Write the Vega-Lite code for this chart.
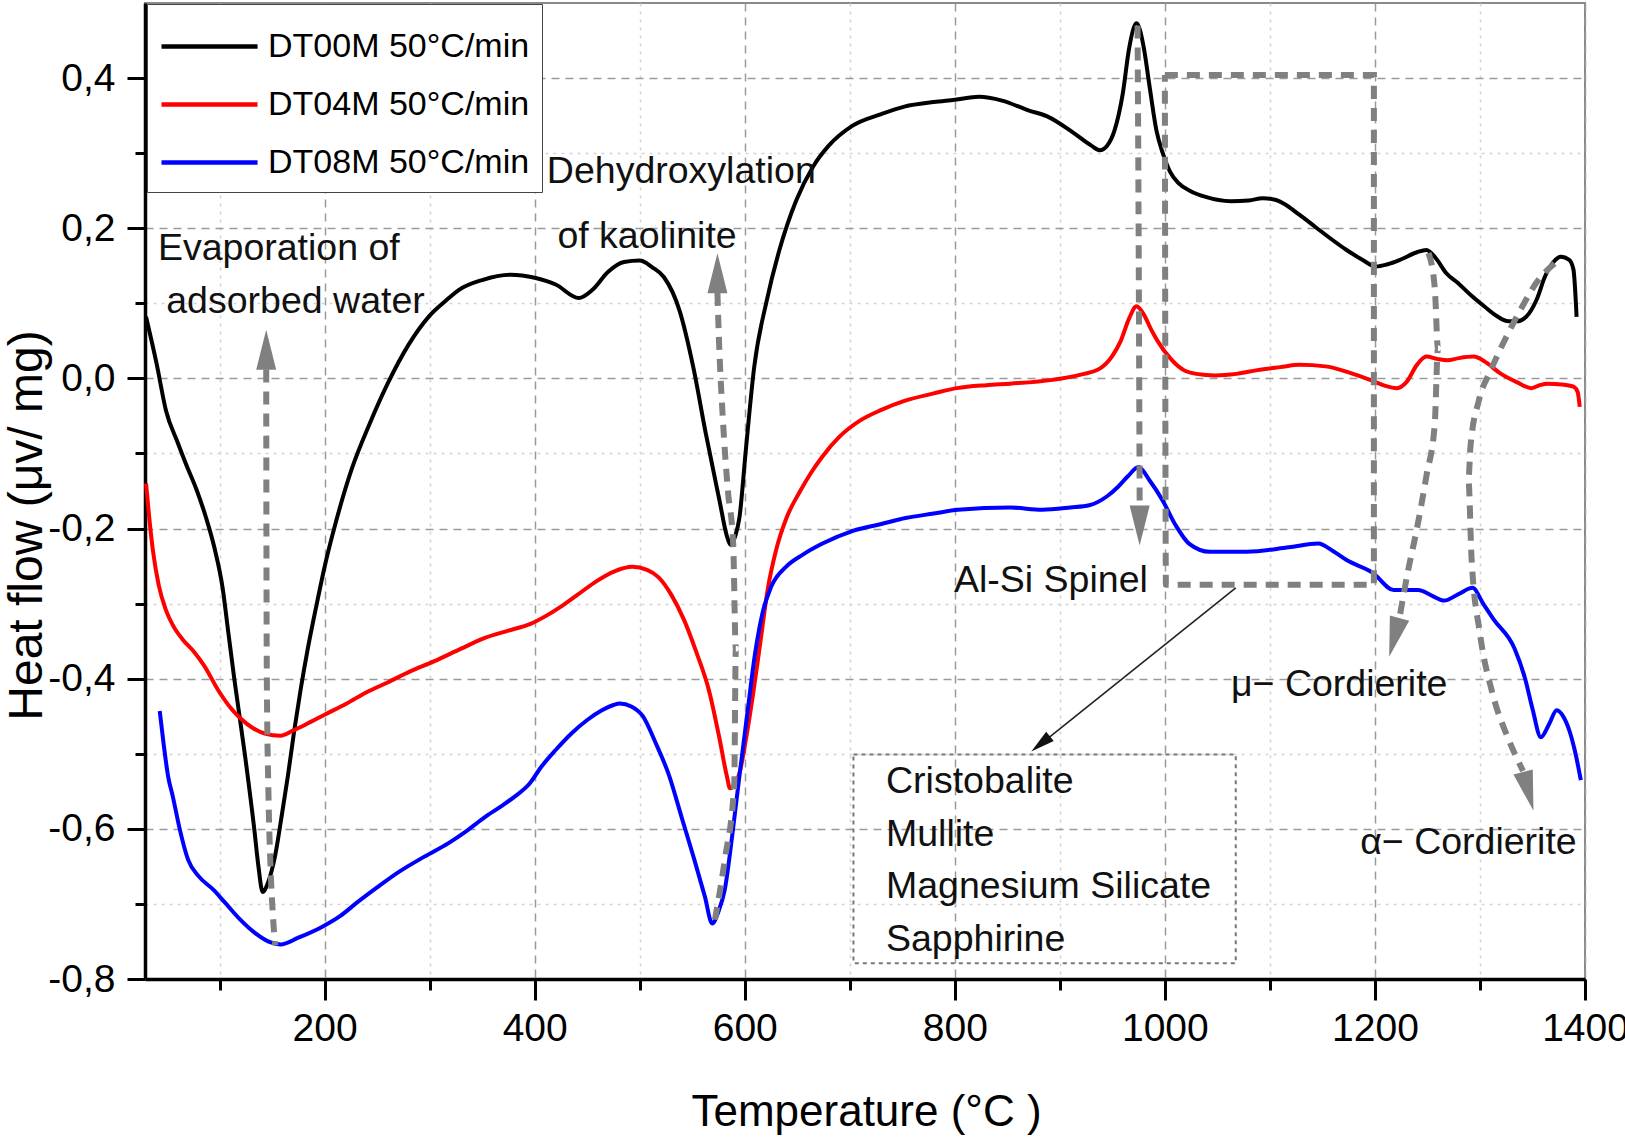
{
  "$schema": "https://vega.github.io/schema/vega-lite/v6.json",
  "description": "DSC curves of DT00M, DT04M, DT08M at 50°C/min with phase annotations.",
  "width": 1440,
  "height": 976,
  "autosize": {"type": "none"},
  "padding": {"left": 145, "top": 3, "right": 40, "bottom": 162},
  "config": {
    "font": "Liberation Sans",
    "view": {"stroke": "#8a8a8a", "strokeWidth": 2},
    "axis": {
      "domainColor": "black", "domainWidth": 3.5,
      "tickColor": "black", "tickWidth": 3,
      "labelColor": "black", "titleColor": "black",
      "labelFont": "Liberation Sans", "labelFontSize": 39,
      "titleFont": "Liberation Sans", "titleFontWeight": "normal",
      "labelFlush": false, "labelOverlap": false, "labelBound": false,
      "gridWidth": 1.5
    }
  },
  "datasets": {
    "dsc": [
      {"sample": "DT00M 50°C/min", "temp": 30, "flow": 0.082},
      {"sample": "DT00M 50°C/min", "temp": 40, "flow": 0.02},
      {"sample": "DT00M 50°C/min", "temp": 49, "flow": -0.043},
      {"sample": "DT00M 50°C/min", "temp": 60, "flow": -0.085},
      {"sample": "DT00M 50°C/min", "temp": 68, "flow": -0.114},
      {"sample": "DT00M 50°C/min", "temp": 78, "flow": -0.148},
      {"sample": "DT00M 50°C/min", "temp": 87, "flow": -0.185},
      {"sample": "DT00M 50°C/min", "temp": 95, "flow": -0.225},
      {"sample": "DT00M 50°C/min", "temp": 103, "flow": -0.28},
      {"sample": "DT00M 50°C/min", "temp": 108, "flow": -0.335},
      {"sample": "DT00M 50°C/min", "temp": 114, "flow": -0.4},
      {"sample": "DT00M 50°C/min", "temp": 124, "flow": -0.5},
      {"sample": "DT00M 50°C/min", "temp": 133, "flow": -0.6},
      {"sample": "DT00M 50°C/min", "temp": 137, "flow": -0.65},
      {"sample": "DT00M 50°C/min", "temp": 141, "flow": -0.684},
      {"sample": "DT00M 50°C/min", "temp": 146, "flow": -0.672},
      {"sample": "DT00M 50°C/min", "temp": 153, "flow": -0.635},
      {"sample": "DT00M 50°C/min", "temp": 160, "flow": -0.575},
      {"sample": "DT00M 50°C/min", "temp": 165, "flow": -0.53},
      {"sample": "DT00M 50°C/min", "temp": 171, "flow": -0.47},
      {"sample": "DT00M 50°C/min", "temp": 177, "flow": -0.416},
      {"sample": "DT00M 50°C/min", "temp": 184, "flow": -0.36},
      {"sample": "DT00M 50°C/min", "temp": 192, "flow": -0.304},
      {"sample": "DT00M 50°C/min", "temp": 201, "flow": -0.245},
      {"sample": "DT00M 50°C/min", "temp": 211, "flow": -0.19},
      {"sample": "DT00M 50°C/min", "temp": 226, "flow": -0.12},
      {"sample": "DT00M 50°C/min", "temp": 243, "flow": -0.06},
      {"sample": "DT00M 50°C/min", "temp": 260, "flow": -0.007},
      {"sample": "DT00M 50°C/min", "temp": 280, "flow": 0.045},
      {"sample": "DT00M 50°C/min", "temp": 299, "flow": 0.082},
      {"sample": "DT00M 50°C/min", "temp": 315, "flow": 0.103},
      {"sample": "DT00M 50°C/min", "temp": 328, "flow": 0.118},
      {"sample": "DT00M 50°C/min", "temp": 350, "flow": 0.131},
      {"sample": "DT00M 50°C/min", "temp": 377, "flow": 0.138},
      {"sample": "DT00M 50°C/min", "temp": 400, "flow": 0.134},
      {"sample": "DT00M 50°C/min", "temp": 420, "flow": 0.125},
      {"sample": "DT00M 50°C/min", "temp": 442, "flow": 0.107},
      {"sample": "DT00M 50°C/min", "temp": 455, "flow": 0.118},
      {"sample": "DT00M 50°C/min", "temp": 470, "flow": 0.142},
      {"sample": "DT00M 50°C/min", "temp": 485, "flow": 0.155},
      {"sample": "DT00M 50°C/min", "temp": 500, "flow": 0.157},
      {"sample": "DT00M 50°C/min", "temp": 512, "flow": 0.148},
      {"sample": "DT00M 50°C/min", "temp": 523, "flow": 0.135},
      {"sample": "DT00M 50°C/min", "temp": 538, "flow": 0.09},
      {"sample": "DT00M 50°C/min", "temp": 551, "flow": 0.015},
      {"sample": "DT00M 50°C/min", "temp": 563, "flow": -0.074},
      {"sample": "DT00M 50°C/min", "temp": 576, "flow": -0.163},
      {"sample": "DT00M 50°C/min", "temp": 583, "flow": -0.21},
      {"sample": "DT00M 50°C/min", "temp": 587, "flow": -0.222},
      {"sample": "DT00M 50°C/min", "temp": 591, "flow": -0.21},
      {"sample": "DT00M 50°C/min", "temp": 595, "flow": -0.185},
      {"sample": "DT00M 50°C/min", "temp": 601, "flow": -0.096},
      {"sample": "DT00M 50°C/min", "temp": 609, "flow": 0.015},
      {"sample": "DT00M 50°C/min", "temp": 621, "flow": 0.104},
      {"sample": "DT00M 50°C/min", "temp": 633, "flow": 0.171},
      {"sample": "DT00M 50°C/min", "temp": 649, "flow": 0.237},
      {"sample": "DT00M 50°C/min", "temp": 665, "flow": 0.282},
      {"sample": "DT00M 50°C/min", "temp": 680, "flow": 0.31},
      {"sample": "DT00M 50°C/min", "temp": 702, "flow": 0.336},
      {"sample": "DT00M 50°C/min", "temp": 730, "flow": 0.352},
      {"sample": "DT00M 50°C/min", "temp": 752, "flow": 0.362},
      {"sample": "DT00M 50°C/min", "temp": 780, "flow": 0.368},
      {"sample": "DT00M 50°C/min", "temp": 800, "flow": 0.371},
      {"sample": "DT00M 50°C/min", "temp": 823, "flow": 0.375},
      {"sample": "DT00M 50°C/min", "temp": 845, "flow": 0.37},
      {"sample": "DT00M 50°C/min", "temp": 870, "flow": 0.357},
      {"sample": "DT00M 50°C/min", "temp": 888, "flow": 0.349},
      {"sample": "DT00M 50°C/min", "temp": 913, "flow": 0.327},
      {"sample": "DT00M 50°C/min", "temp": 930, "flow": 0.31},
      {"sample": "DT00M 50°C/min", "temp": 938, "flow": 0.304},
      {"sample": "DT00M 50°C/min", "temp": 945, "flow": 0.31},
      {"sample": "DT00M 50°C/min", "temp": 952, "flow": 0.33},
      {"sample": "DT00M 50°C/min", "temp": 960, "flow": 0.38},
      {"sample": "DT00M 50°C/min", "temp": 966, "flow": 0.44},
      {"sample": "DT00M 50°C/min", "temp": 973, "flow": 0.473},
      {"sample": "DT00M 50°C/min", "temp": 980, "flow": 0.44},
      {"sample": "DT00M 50°C/min", "temp": 985, "flow": 0.393},
      {"sample": "DT00M 50°C/min", "temp": 992, "flow": 0.33},
      {"sample": "DT00M 50°C/min", "temp": 998, "flow": 0.3},
      {"sample": "DT00M 50°C/min", "temp": 1005, "flow": 0.275},
      {"sample": "DT00M 50°C/min", "temp": 1013, "flow": 0.26},
      {"sample": "DT00M 50°C/min", "temp": 1025, "flow": 0.249},
      {"sample": "DT00M 50°C/min", "temp": 1038, "flow": 0.242},
      {"sample": "DT00M 50°C/min", "temp": 1063, "flow": 0.236},
      {"sample": "DT00M 50°C/min", "temp": 1080, "flow": 0.237},
      {"sample": "DT00M 50°C/min", "temp": 1093, "flow": 0.24},
      {"sample": "DT00M 50°C/min", "temp": 1105, "flow": 0.238},
      {"sample": "DT00M 50°C/min", "temp": 1113, "flow": 0.233},
      {"sample": "DT00M 50°C/min", "temp": 1128, "flow": 0.218},
      {"sample": "DT00M 50°C/min", "temp": 1143, "flow": 0.202},
      {"sample": "DT00M 50°C/min", "temp": 1158, "flow": 0.186},
      {"sample": "DT00M 50°C/min", "temp": 1173, "flow": 0.171},
      {"sample": "DT00M 50°C/min", "temp": 1188, "flow": 0.158},
      {"sample": "DT00M 50°C/min", "temp": 1201, "flow": 0.149},
      {"sample": "DT00M 50°C/min", "temp": 1212, "flow": 0.152},
      {"sample": "DT00M 50°C/min", "temp": 1224, "flow": 0.158},
      {"sample": "DT00M 50°C/min", "temp": 1240, "flow": 0.168},
      {"sample": "DT00M 50°C/min", "temp": 1249, "flow": 0.171},
      {"sample": "DT00M 50°C/min", "temp": 1258, "flow": 0.16},
      {"sample": "DT00M 50°C/min", "temp": 1268, "flow": 0.14},
      {"sample": "DT00M 50°C/min", "temp": 1279, "flow": 0.127},
      {"sample": "DT00M 50°C/min", "temp": 1292, "flow": 0.11},
      {"sample": "DT00M 50°C/min", "temp": 1304, "flow": 0.096},
      {"sample": "DT00M 50°C/min", "temp": 1316, "flow": 0.083},
      {"sample": "DT00M 50°C/min", "temp": 1327, "flow": 0.076},
      {"sample": "DT00M 50°C/min", "temp": 1335, "flow": 0.076},
      {"sample": "DT00M 50°C/min", "temp": 1344, "flow": 0.082},
      {"sample": "DT00M 50°C/min", "temp": 1354, "flow": 0.105},
      {"sample": "DT00M 50°C/min", "temp": 1362, "flow": 0.136},
      {"sample": "DT00M 50°C/min", "temp": 1370, "flow": 0.155},
      {"sample": "DT00M 50°C/min", "temp": 1377, "flow": 0.162},
      {"sample": "DT00M 50°C/min", "temp": 1385, "flow": 0.158},
      {"sample": "DT00M 50°C/min", "temp": 1389, "flow": 0.145},
      {"sample": "DT00M 50°C/min", "temp": 1392, "flow": 0.082},

      {"sample": "DT04M 50°C/min", "temp": 30, "flow": -0.14},
      {"sample": "DT04M 50°C/min", "temp": 33, "flow": -0.185},
      {"sample": "DT04M 50°C/min", "temp": 36.5, "flow": -0.229},
      {"sample": "DT04M 50°C/min", "temp": 42, "flow": -0.275},
      {"sample": "DT04M 50°C/min", "temp": 49, "flow": -0.309},
      {"sample": "DT04M 50°C/min", "temp": 56, "flow": -0.33},
      {"sample": "DT04M 50°C/min", "temp": 65, "flow": -0.348},
      {"sample": "DT04M 50°C/min", "temp": 75, "flow": -0.363},
      {"sample": "DT04M 50°C/min", "temp": 85, "flow": -0.382},
      {"sample": "DT04M 50°C/min", "temp": 99, "flow": -0.416},
      {"sample": "DT04M 50°C/min", "temp": 110, "flow": -0.438},
      {"sample": "DT04M 50°C/min", "temp": 120, "flow": -0.453},
      {"sample": "DT04M 50°C/min", "temp": 132, "flow": -0.466},
      {"sample": "DT04M 50°C/min", "temp": 143, "flow": -0.473},
      {"sample": "DT04M 50°C/min", "temp": 158, "flow": -0.476},
      {"sample": "DT04M 50°C/min", "temp": 170, "flow": -0.469},
      {"sample": "DT04M 50°C/min", "temp": 182, "flow": -0.461},
      {"sample": "DT04M 50°C/min", "temp": 200, "flow": -0.448},
      {"sample": "DT04M 50°C/min", "temp": 221, "flow": -0.433},
      {"sample": "DT04M 50°C/min", "temp": 240, "flow": -0.418},
      {"sample": "DT04M 50°C/min", "temp": 260, "flow": -0.405},
      {"sample": "DT04M 50°C/min", "temp": 282, "flow": -0.39},
      {"sample": "DT04M 50°C/min", "temp": 304, "flow": -0.377},
      {"sample": "DT04M 50°C/min", "temp": 330, "flow": -0.36},
      {"sample": "DT04M 50°C/min", "temp": 352, "flow": -0.346},
      {"sample": "DT04M 50°C/min", "temp": 375, "flow": -0.336},
      {"sample": "DT04M 50°C/min", "temp": 396, "flow": -0.327},
      {"sample": "DT04M 50°C/min", "temp": 410, "flow": -0.317},
      {"sample": "DT04M 50°C/min", "temp": 425, "flow": -0.304},
      {"sample": "DT04M 50°C/min", "temp": 442, "flow": -0.287},
      {"sample": "DT04M 50°C/min", "temp": 459, "flow": -0.27},
      {"sample": "DT04M 50°C/min", "temp": 476, "flow": -0.257},
      {"sample": "DT04M 50°C/min", "temp": 493, "flow": -0.251},
      {"sample": "DT04M 50°C/min", "temp": 507, "flow": -0.255},
      {"sample": "DT04M 50°C/min", "temp": 518, "flow": -0.265},
      {"sample": "DT04M 50°C/min", "temp": 530, "flow": -0.288},
      {"sample": "DT04M 50°C/min", "temp": 542, "flow": -0.321},
      {"sample": "DT04M 50°C/min", "temp": 554, "flow": -0.365},
      {"sample": "DT04M 50°C/min", "temp": 566, "flow": -0.416},
      {"sample": "DT04M 50°C/min", "temp": 576, "flow": -0.48},
      {"sample": "DT04M 50°C/min", "temp": 583, "flow": -0.53},
      {"sample": "DT04M 50°C/min", "temp": 586, "flow": -0.546},
      {"sample": "DT04M 50°C/min", "temp": 591, "flow": -0.54},
      {"sample": "DT04M 50°C/min", "temp": 596, "flow": -0.52},
      {"sample": "DT04M 50°C/min", "temp": 600, "flow": -0.49},
      {"sample": "DT04M 50°C/min", "temp": 608, "flow": -0.42},
      {"sample": "DT04M 50°C/min", "temp": 615, "flow": -0.35},
      {"sample": "DT04M 50°C/min", "temp": 622, "flow": -0.28},
      {"sample": "DT04M 50°C/min", "temp": 630, "flow": -0.228},
      {"sample": "DT04M 50°C/min", "temp": 640, "flow": -0.185},
      {"sample": "DT04M 50°C/min", "temp": 652, "flow": -0.152},
      {"sample": "DT04M 50°C/min", "temp": 663, "flow": -0.126},
      {"sample": "DT04M 50°C/min", "temp": 674, "flow": -0.104},
      {"sample": "DT04M 50°C/min", "temp": 690, "flow": -0.078},
      {"sample": "DT04M 50°C/min", "temp": 710, "flow": -0.056},
      {"sample": "DT04M 50°C/min", "temp": 730, "flow": -0.042},
      {"sample": "DT04M 50°C/min", "temp": 752, "flow": -0.03},
      {"sample": "DT04M 50°C/min", "temp": 780, "flow": -0.02},
      {"sample": "DT04M 50°C/min", "temp": 802, "flow": -0.013},
      {"sample": "DT04M 50°C/min", "temp": 830, "flow": -0.009},
      {"sample": "DT04M 50°C/min", "temp": 853, "flow": -0.007},
      {"sample": "DT04M 50°C/min", "temp": 893, "flow": -0.002},
      {"sample": "DT04M 50°C/min", "temp": 920, "flow": 0.005},
      {"sample": "DT04M 50°C/min", "temp": 938, "flow": 0.013},
      {"sample": "DT04M 50°C/min", "temp": 950, "flow": 0.03},
      {"sample": "DT04M 50°C/min", "temp": 958, "flow": 0.05},
      {"sample": "DT04M 50°C/min", "temp": 966, "flow": 0.08},
      {"sample": "DT04M 50°C/min", "temp": 973, "flow": 0.096},
      {"sample": "DT04M 50°C/min", "temp": 980, "flow": 0.085},
      {"sample": "DT04M 50°C/min", "temp": 987, "flow": 0.065},
      {"sample": "DT04M 50°C/min", "temp": 993, "flow": 0.05},
      {"sample": "DT04M 50°C/min", "temp": 1005, "flow": 0.027},
      {"sample": "DT04M 50°C/min", "temp": 1018, "flow": 0.011},
      {"sample": "DT04M 50°C/min", "temp": 1030, "flow": 0.006},
      {"sample": "DT04M 50°C/min", "temp": 1048, "flow": 0.004},
      {"sample": "DT04M 50°C/min", "temp": 1068, "flow": 0.006},
      {"sample": "DT04M 50°C/min", "temp": 1088, "flow": 0.011},
      {"sample": "DT04M 50°C/min", "temp": 1110, "flow": 0.015},
      {"sample": "DT04M 50°C/min", "temp": 1128, "flow": 0.018},
      {"sample": "DT04M 50°C/min", "temp": 1153, "flow": 0.016},
      {"sample": "DT04M 50°C/min", "temp": 1175, "flow": 0.008},
      {"sample": "DT04M 50°C/min", "temp": 1199, "flow": -0.004},
      {"sample": "DT04M 50°C/min", "temp": 1210, "flow": -0.01},
      {"sample": "DT04M 50°C/min", "temp": 1221, "flow": -0.013},
      {"sample": "DT04M 50°C/min", "temp": 1230, "flow": -0.005},
      {"sample": "DT04M 50°C/min", "temp": 1240, "flow": 0.018},
      {"sample": "DT04M 50°C/min", "temp": 1249, "flow": 0.029},
      {"sample": "DT04M 50°C/min", "temp": 1259, "flow": 0.026},
      {"sample": "DT04M 50°C/min", "temp": 1269, "flow": 0.024},
      {"sample": "DT04M 50°C/min", "temp": 1280, "flow": 0.027},
      {"sample": "DT04M 50°C/min", "temp": 1294, "flow": 0.029},
      {"sample": "DT04M 50°C/min", "temp": 1305, "flow": 0.022},
      {"sample": "DT04M 50°C/min", "temp": 1319, "flow": 0.007},
      {"sample": "DT04M 50°C/min", "temp": 1335, "flow": -0.005},
      {"sample": "DT04M 50°C/min", "temp": 1349, "flow": -0.013},
      {"sample": "DT04M 50°C/min", "temp": 1357, "flow": -0.009},
      {"sample": "DT04M 50°C/min", "temp": 1364, "flow": -0.007},
      {"sample": "DT04M 50°C/min", "temp": 1378, "flow": -0.008},
      {"sample": "DT04M 50°C/min", "temp": 1389, "flow": -0.011},
      {"sample": "DT04M 50°C/min", "temp": 1393, "flow": -0.018},
      {"sample": "DT04M 50°C/min", "temp": 1395, "flow": -0.038},

      {"sample": "DT08M 50°C/min", "temp": 43, "flow": -0.443},
      {"sample": "DT08M 50°C/min", "temp": 47, "flow": -0.49},
      {"sample": "DT08M 50°C/min", "temp": 51, "flow": -0.53},
      {"sample": "DT08M 50°C/min", "temp": 55.5, "flow": -0.557},
      {"sample": "DT08M 50°C/min", "temp": 62, "flow": -0.6},
      {"sample": "DT08M 50°C/min", "temp": 70, "flow": -0.641},
      {"sample": "DT08M 50°C/min", "temp": 80, "flow": -0.663},
      {"sample": "DT08M 50°C/min", "temp": 94, "flow": -0.681},
      {"sample": "DT08M 50°C/min", "temp": 105, "flow": -0.698},
      {"sample": "DT08M 50°C/min", "temp": 119, "flow": -0.72},
      {"sample": "DT08M 50°C/min", "temp": 133, "flow": -0.738},
      {"sample": "DT08M 50°C/min", "temp": 148, "flow": -0.751},
      {"sample": "DT08M 50°C/min", "temp": 158, "flow": -0.754},
      {"sample": "DT08M 50°C/min", "temp": 175, "flow": -0.745},
      {"sample": "DT08M 50°C/min", "temp": 197, "flow": -0.731},
      {"sample": "DT08M 50°C/min", "temp": 215, "flow": -0.716},
      {"sample": "DT08M 50°C/min", "temp": 231, "flow": -0.698},
      {"sample": "DT08M 50°C/min", "temp": 250, "flow": -0.678},
      {"sample": "DT08M 50°C/min", "temp": 270, "flow": -0.658},
      {"sample": "DT08M 50°C/min", "temp": 295, "flow": -0.637},
      {"sample": "DT08M 50°C/min", "temp": 318, "flow": -0.619},
      {"sample": "DT08M 50°C/min", "temp": 335, "flow": -0.603},
      {"sample": "DT08M 50°C/min", "temp": 352, "flow": -0.585},
      {"sample": "DT08M 50°C/min", "temp": 368, "flow": -0.57},
      {"sample": "DT08M 50°C/min", "temp": 381, "flow": -0.557},
      {"sample": "DT08M 50°C/min", "temp": 395, "flow": -0.54},
      {"sample": "DT08M 50°C/min", "temp": 406, "flow": -0.518},
      {"sample": "DT08M 50°C/min", "temp": 420, "flow": -0.495},
      {"sample": "DT08M 50°C/min", "temp": 435, "flow": -0.473},
      {"sample": "DT08M 50°C/min", "temp": 450, "flow": -0.455},
      {"sample": "DT08M 50°C/min", "temp": 464, "flow": -0.442},
      {"sample": "DT08M 50°C/min", "temp": 475, "flow": -0.435},
      {"sample": "DT08M 50°C/min", "temp": 481, "flow": -0.433},
      {"sample": "DT08M 50°C/min", "temp": 492, "flow": -0.437},
      {"sample": "DT08M 50°C/min", "temp": 503, "flow": -0.45},
      {"sample": "DT08M 50°C/min", "temp": 515, "flow": -0.485},
      {"sample": "DT08M 50°C/min", "temp": 528, "flow": -0.529},
      {"sample": "DT08M 50°C/min", "temp": 540, "flow": -0.585},
      {"sample": "DT08M 50°C/min", "temp": 552, "flow": -0.641},
      {"sample": "DT08M 50°C/min", "temp": 562, "flow": -0.69},
      {"sample": "DT08M 50°C/min", "temp": 569, "flow": -0.726},
      {"sample": "DT08M 50°C/min", "temp": 575, "flow": -0.71},
      {"sample": "DT08M 50°C/min", "temp": 581, "flow": -0.681},
      {"sample": "DT08M 50°C/min", "temp": 588, "flow": -0.61},
      {"sample": "DT08M 50°C/min", "temp": 595, "flow": -0.529},
      {"sample": "DT08M 50°C/min", "temp": 603, "flow": -0.44},
      {"sample": "DT08M 50°C/min", "temp": 610, "flow": -0.365},
      {"sample": "DT08M 50°C/min", "temp": 617, "flow": -0.312},
      {"sample": "DT08M 50°C/min", "temp": 625, "flow": -0.278},
      {"sample": "DT08M 50°C/min", "temp": 640, "flow": -0.25},
      {"sample": "DT08M 50°C/min", "temp": 655, "flow": -0.235},
      {"sample": "DT08M 50°C/min", "temp": 674, "flow": -0.22},
      {"sample": "DT08M 50°C/min", "temp": 703, "flow": -0.203},
      {"sample": "DT08M 50°C/min", "temp": 730, "flow": -0.194},
      {"sample": "DT08M 50°C/min", "temp": 753, "flow": -0.186},
      {"sample": "DT08M 50°C/min", "temp": 780, "flow": -0.18},
      {"sample": "DT08M 50°C/min", "temp": 803, "flow": -0.175},
      {"sample": "DT08M 50°C/min", "temp": 853, "flow": -0.172},
      {"sample": "DT08M 50°C/min", "temp": 883, "flow": -0.175},
      {"sample": "DT08M 50°C/min", "temp": 910, "flow": -0.172},
      {"sample": "DT08M 50°C/min", "temp": 928, "flow": -0.169},
      {"sample": "DT08M 50°C/min", "temp": 945, "flow": -0.157},
      {"sample": "DT08M 50°C/min", "temp": 955, "flow": -0.145},
      {"sample": "DT08M 50°C/min", "temp": 965, "flow": -0.13},
      {"sample": "DT08M 50°C/min", "temp": 975, "flow": -0.118},
      {"sample": "DT08M 50°C/min", "temp": 985, "flow": -0.135},
      {"sample": "DT08M 50°C/min", "temp": 998, "flow": -0.163},
      {"sample": "DT08M 50°C/min", "temp": 1010, "flow": -0.195},
      {"sample": "DT08M 50°C/min", "temp": 1023, "flow": -0.22},
      {"sample": "DT08M 50°C/min", "temp": 1043, "flow": -0.231},
      {"sample": "DT08M 50°C/min", "temp": 1078, "flow": -0.231},
      {"sample": "DT08M 50°C/min", "temp": 1118, "flow": -0.225},
      {"sample": "DT08M 50°C/min", "temp": 1146, "flow": -0.22},
      {"sample": "DT08M 50°C/min", "temp": 1160, "flow": -0.23},
      {"sample": "DT08M 50°C/min", "temp": 1173, "flow": -0.242},
      {"sample": "DT08M 50°C/min", "temp": 1198, "flow": -0.259},
      {"sample": "DT08M 50°C/min", "temp": 1218, "flow": -0.282},
      {"sample": "DT08M 50°C/min", "temp": 1241, "flow": -0.282},
      {"sample": "DT08M 50°C/min", "temp": 1255, "flow": -0.29},
      {"sample": "DT08M 50°C/min", "temp": 1266, "flow": -0.296},
      {"sample": "DT08M 50°C/min", "temp": 1280, "flow": -0.287},
      {"sample": "DT08M 50°C/min", "temp": 1293, "flow": -0.279},
      {"sample": "DT08M 50°C/min", "temp": 1303, "flow": -0.3},
      {"sample": "DT08M 50°C/min", "temp": 1313, "flow": -0.321},
      {"sample": "DT08M 50°C/min", "temp": 1333, "flow": -0.36},
      {"sample": "DT08M 50°C/min", "temp": 1343, "flow": -0.4},
      {"sample": "DT08M 50°C/min", "temp": 1350, "flow": -0.44},
      {"sample": "DT08M 50°C/min", "temp": 1358, "flow": -0.478},
      {"sample": "DT08M 50°C/min", "temp": 1366, "flow": -0.46},
      {"sample": "DT08M 50°C/min", "temp": 1373, "flow": -0.442},
      {"sample": "DT08M 50°C/min", "temp": 1380, "flow": -0.452},
      {"sample": "DT08M 50°C/min", "temp": 1386, "flow": -0.473},
      {"sample": "DT08M 50°C/min", "temp": 1391, "flow": -0.5},
      {"sample": "DT08M 50°C/min", "temp": 1396, "flow": -0.535}
    ],
    "arrows": [
      {"arrow": "evap", "i": 0, "temp": 144.4, "flow": 0.012},
      {"arrow": "evap", "i": 1, "temp": 144.6, "flow": -0.2},
      {"arrow": "evap", "i": 2, "temp": 145, "flow": -0.4},
      {"arrow": "evap", "i": 3, "temp": 146.5, "flow": -0.55},
      {"arrow": "evap", "i": 4, "temp": 148.5, "flow": -0.65},
      {"arrow": "evap", "i": 5, "temp": 151, "flow": -0.72},
      {"arrow": "evap", "i": 6, "temp": 153, "flow": -0.755},
      {"arrow": "dehyd", "i": 0, "temp": 574, "flow": 0.114},
      {"arrow": "dehyd", "i": 1, "temp": 575.5, "flow": 0.05},
      {"arrow": "dehyd", "i": 2, "temp": 579, "flow": -0.05},
      {"arrow": "dehyd", "i": 3, "temp": 584, "flow": -0.15},
      {"arrow": "dehyd", "i": 4, "temp": 589, "flow": -0.22},
      {"arrow": "dehyd", "i": 5, "temp": 591.5, "flow": -0.36},
      {"arrow": "dehyd", "i": 6, "temp": 590, "flow": -0.54},
      {"arrow": "dehyd", "i": 7, "temp": 581, "flow": -0.641},
      {"arrow": "dehyd", "i": 8, "temp": 571, "flow": -0.726},
      {"arrow": "spinel", "i": 0, "temp": 974, "flow": 0.47},
      {"arrow": "spinel", "i": 1, "temp": 975, "flow": 0.2},
      {"arrow": "spinel", "i": 2, "temp": 976, "flow": -0.17},
      {"arrow": "box", "i": 0, "temp": 1000, "flow": 0.404},
      {"arrow": "box", "i": 1, "temp": 1199, "flow": 0.404},
      {"arrow": "box", "i": 2, "temp": 1199, "flow": -0.275},
      {"arrow": "box", "i": 3, "temp": 1001, "flow": -0.275},
      {"arrow": "box", "i": 4, "temp": 1000, "flow": 0.404},
      {"arrow": "mu", "i": 0, "temp": 1251, "flow": 0.167},
      {"arrow": "mu", "i": 1, "temp": 1257, "flow": 0.12},
      {"arrow": "mu", "i": 2, "temp": 1260, "flow": 0.04},
      {"arrow": "mu", "i": 3, "temp": 1257, "flow": -0.06},
      {"arrow": "mu", "i": 4, "temp": 1249, "flow": -0.13},
      {"arrow": "mu", "i": 5, "temp": 1240, "flow": -0.2},
      {"arrow": "mu", "i": 6, "temp": 1231, "flow": -0.26},
      {"arrow": "mu", "i": 7, "temp": 1223.5, "flow": -0.318},
      {"arrow": "alpha", "i": 0, "temp": 1371, "flow": 0.153},
      {"arrow": "alpha", "i": 1, "temp": 1355, "flow": 0.13},
      {"arrow": "alpha", "i": 2, "temp": 1340, "flow": 0.095},
      {"arrow": "alpha", "i": 3, "temp": 1325, "flow": 0.055},
      {"arrow": "alpha", "i": 4, "temp": 1310, "flow": 0.01},
      {"arrow": "alpha", "i": 5, "temp": 1299, "flow": -0.029},
      {"arrow": "alpha", "i": 6, "temp": 1291, "flow": -0.09},
      {"arrow": "alpha", "i": 7, "temp": 1289, "flow": -0.135},
      {"arrow": "alpha", "i": 8, "temp": 1292, "flow": -0.24},
      {"arrow": "alpha", "i": 9, "temp": 1300, "flow": -0.34},
      {"arrow": "alpha", "i": 10, "temp": 1312, "flow": -0.42},
      {"arrow": "alpha", "i": 11, "temp": 1327, "flow": -0.48},
      {"arrow": "alpha", "i": 12, "temp": 1341, "flow": -0.523}
    ],
    "pointer": [
      {"temp": 1067.5, "flow": -0.279},
      {"temp": 880, "flow": -0.489}
    ],
    "heads": [
      {"head": "evap", "temp": 144.4, "flow": 0.038},
      {"head": "dehyd", "temp": 574, "flow": 0.14},
      {"head": "spinel", "temp": 976, "flow": -0.196},
      {"head": "mu", "temp": 1218.5, "flow": -0.345},
      {"head": "alpha", "temp": 1346, "flow": -0.55},
      {"head": "pointer", "temp": 881.7, "flow": -0.487}
    ],
    "phasebox": [
      {"temp": 703.5, "temp2": 1067.5, "flow": -0.501, "flow2": -0.779}
    ],
    "labels": [
      {"label": "Evaporation of", "temp": 156.4, "flow": 0.172},
      {"label": "adsorbed water", "temp": 172.3, "flow": 0.102},
      {"label": "Dehydroxylation", "temp": 539.6, "flow": 0.275},
      {"label": "of kaolinite", "temp": 507, "flow": 0.188},
      {"label": "Al-Si Spinel", "temp": 891.5, "flow": -0.27},
      {"label": "μ− Cordierite", "temp": 1166, "flow": -0.408},
      {"label": "α− Cordierite", "temp": 1289, "flow": -0.619}
    ],
    "phases": [
      {"label": "Cristobalite", "temp": 734.5, "flow": -0.537},
      {"label": "Mullite", "temp": 734.5, "flow": -0.608},
      {"label": "Magnesium Silicate", "temp": 734.5, "flow": -0.678},
      {"label": "Sapphirine", "temp": 734.5, "flow": -0.748}
    ]
  },
  "encoding": {
    "x": {
      "field": "temp",
      "type": "quantitative",
      "scale": {"domain": [29, 1400], "nice": false, "zero": false},
      "axis": {
        "title": "Temperature (°C )",
        "titleFontSize": 44,
        "titleX": 721,
        "titleY": 146,
        "titleAlign": "center",
        "titleBaseline": "alphabetic",
        "values": [100, 200, 300, 400, 500, 600, 700, 800, 900, 1000, 1100, 1200, 1300, 1400],
        "labelExpr": "datum.value % 200 === 0 ? format(datum.value, 'd') : ''",
        "labelPadding": 9,
        "tickSize": {"condition": {"test": "datum.value % 200 === 0", "value": 21}, "value": 11},
        "gridDash": {"condition": {"test": "datum.value % 200 === 0", "value": [8, 6]}, "value": [3, 5]},
        "gridColor": {"condition": {"test": "datum.value % 200 === 0", "value": "#9a9a9a"}, "value": "#d4d4d4"}
      }
    },
    "y": {
      "field": "flow",
      "type": "quantitative",
      "scale": {"domain": [-0.8, 0.5], "nice": false, "zero": false},
      "axis": {
        "title": "Heat flow (μv/ mg)",
        "titleFontSize": 48,
        "titleAngle": 270,
        "titleX": -104,
        "titleY": 522,
        "titleAlign": "center",
        "titleBaseline": "alphabetic",
        "values": [-0.8, -0.7, -0.6, -0.5, -0.4, -0.3, -0.2, -0.1, 0, 0.1, 0.2, 0.3, 0.4],
        "labelExpr": "abs(round(datum.value * 10)) % 2 === 0 ? replace(replace(format(datum.value, '.1f'), '.', ','), '\u2212', '-') : ''",
        "labelPadding": 12,
        "tickSize": {"condition": {"test": "abs(round(datum.value * 10)) % 2 === 0", "value": 18}, "value": 10},
        "gridDash": {"condition": {"test": "abs(round(datum.value * 10)) % 2 === 0", "value": [8, 6]}, "value": [3, 5]},
        "gridColor": {"condition": {"test": "abs(round(datum.value * 10)) % 2 === 0", "value": "#9a9a9a"}, "value": "#d4d4d4"}
      }
    }
  },
  "layer": [
    {
      "data": {"name": "dsc"},
      "mark": {"type": "line", "strokeWidth": 4, "interpolate": "monotone"},
      "encoding": {
        "color": {
          "field": "sample",
          "type": "nominal",
          "scale": {
            "domain": ["DT00M 50°C/min", "DT04M 50°C/min", "DT08M 50°C/min"],
            "range": ["#000000", "#ff0000", "#0000ff"]
          },
          "legend": {
            "title": null,
            "orient": "none",
            "legendX": 2,
            "legendY": 1,
            "symbolType": "M-1,0L2.43,0",
            "symbolSize": 3136,
            "symbolStrokeWidth": 4.5,
            "labelFont": "Liberation Sans",
            "labelFontSize": 34,
            "labelColor": "black",
            "labelOffset": 48,
            "labelLimit": 0,
            "strokeColor": "#444444",
            "fillColor": "white",
            "padding": 12,
            "rowPadding": 10
          }
        }
      }
    },
    {
      "data": {"name": "arrows"},
      "mark": {"type": "line", "color": "#808080", "strokeWidth": 6, "strokeDash": [13, 9], "interpolate": "monotone"},
      "encoding": {
        "detail": {"field": "arrow"},
        "order": {"field": "i", "type": "quantitative"}
      }
    },
    {
      "data": {"name": "pointer"},
      "mark": {"type": "line", "color": "#222222", "strokeWidth": 1.6},
      "encoding": {}
    },
    {
      "data": {"name": "phasebox"},
      "mark": {"type": "rect", "fill": null, "fillOpacity": 0, "stroke": "#777777", "strokeWidth": 2, "strokeDash": [4, 4]},
      "encoding": {
        "x2": {"field": "temp2"},
        "y2": {"field": "flow2"}
      }
    },
    {
      "data": {"name": "heads"},
      "transform": [{"filter": "datum.head === 'evap' || datum.head === 'dehyd'"}],
      "mark": {"type": "point", "shape": "M-0.5,1L0,-1L0.5,1Z", "filled": true, "color": "#808080", "opacity": 1, "size": 1600, "angle": 0}
    },
    {
      "data": {"name": "heads"},
      "transform": [{"filter": "datum.head === 'spinel'"}],
      "mark": {"type": "point", "shape": "M-0.5,1L0,-1L0.5,1Z", "filled": true, "color": "#808080", "opacity": 1, "size": 1600, "angle": 180}
    },
    {
      "data": {"name": "heads"},
      "transform": [{"filter": "datum.head === 'mu'"}],
      "mark": {"type": "point", "shape": "M-0.5,1L0,-1L0.5,1Z", "filled": true, "color": "#808080", "opacity": 1, "size": 1600, "angle": 195}
    },
    {
      "data": {"name": "heads"},
      "transform": [{"filter": "datum.head === 'alpha'"}],
      "mark": {"type": "point", "shape": "M-0.5,1L0,-1L0.5,1Z", "filled": true, "color": "#808080", "opacity": 1, "size": 1600, "angle": 165}
    },
    {
      "data": {"name": "heads"},
      "transform": [{"filter": "datum.head === 'pointer'"}],
      "mark": {"type": "point", "shape": "M-0.5,1L0,-1L0.5,1Z", "filled": true, "color": "#111111", "opacity": 1, "size": 576, "angle": 231}
    },
    {
      "data": {"name": "labels"},
      "mark": {"type": "text", "font": "Liberation Sans", "fontSize": 37.5, "color": "#111111", "align": "center", "baseline": "middle"},
      "encoding": {"text": {"field": "label"}}
    },
    {
      "data": {"name": "phases"},
      "mark": {"type": "text", "font": "Liberation Sans", "fontSize": 37.5, "color": "#111111", "align": "left", "baseline": "middle"},
      "encoding": {"text": {"field": "label"}}
    }
  ]
}
